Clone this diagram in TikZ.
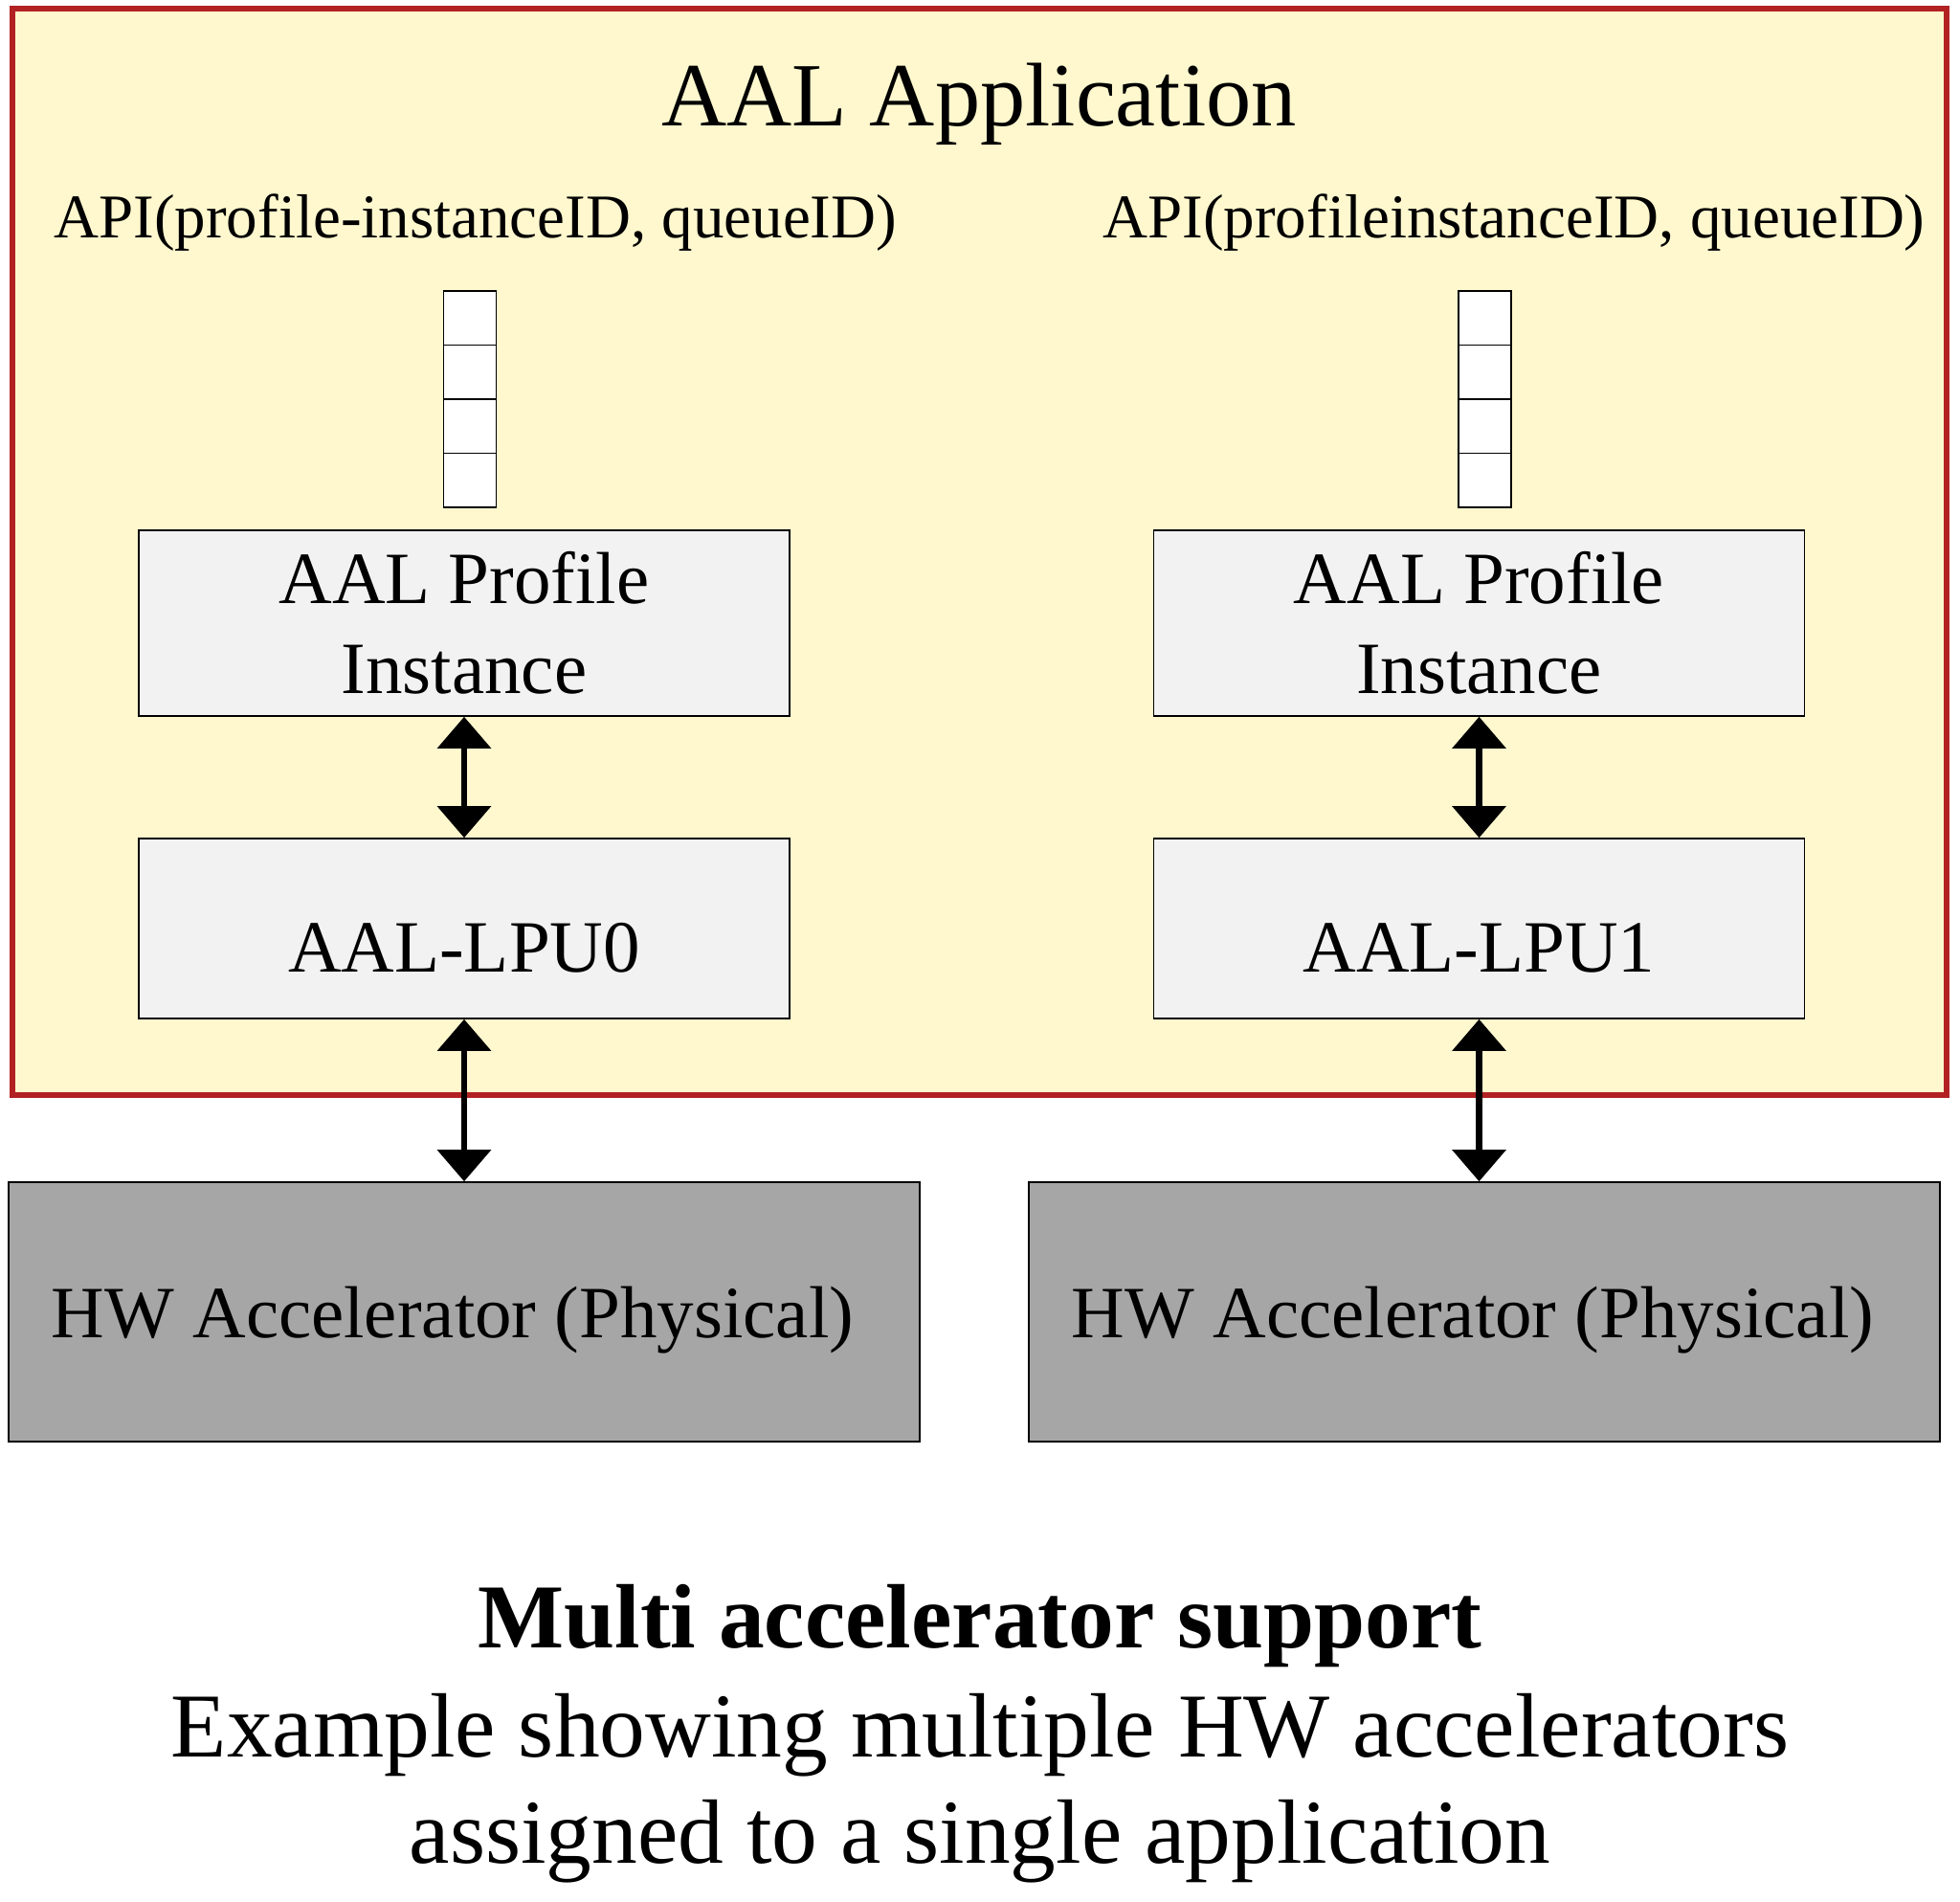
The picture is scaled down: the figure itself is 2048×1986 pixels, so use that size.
\documentclass[tikz,border=0pt]{standalone}
\usepackage{fontspec}
\setmainfont{Liberation Serif}
\usepackage{tikz}
\usetikzlibrary{shapes,arrows.meta,positioning,calc}
\definecolor{appred}{HTML}{B22222}
\definecolor{appyellow}{HTML}{FFF8CE}
\definecolor{boxgray}{HTML}{F2F2F2}
\definecolor{hwgray}{HTML}{A6A6A6}

\tikzset{
  appbox/.style={draw=appred,line width=3pt,fill=appyellow,inner sep=0pt},
  swbox/.style={draw=black,line width=0.8pt,fill=boxgray,inner sep=0pt,
    minimum width=340pt,align=center,font=\fontsize{38.5}{47}\selectfont},
  hwbox/.style={draw=black,line width=0.8pt,fill=hwgray,inner sep=0pt,
    minimum width=476pt,minimum height=135.5pt,text height=27pt,text depth=0pt,
    font=\fontsize{38.5}{47}\selectfont},
  qcell/.style={draw=black,line width=0.75pt,fill=white,inner sep=0pt,
    minimum width=27.5pt,minimum height=28.25pt},
  apilabel/.style={anchor=base west,inner sep=0pt,font=\fontsize{32.5}{40}\selectfont},
  link/.style={line width=3.3pt,{Triangle[width=27.5pt,length=16.5pt]}-{Triangle[width=27.5pt,length=16.5pt]}}
}

\begin{document}
\begin{tikzpicture}[x=0.5pt,y=-0.5pt]
  \useasboundingbox (0,0) rectangle (2048,1986);

  % Application frame
  \node[appbox,minimum width=1010.5pt,minimum height=567.5pt] (app) at (1023.5,576.5) {};
  \node[anchor=base,inner sep=0pt,font=\fontsize{47.2}{56}\selectfont] (apptitle) at (1023,131) {AAL Application};

  % API calls
  \node[apilabel] (api0) at (56,248) {API(profile-instanceID, queueID)};
  \node[apilabel] (api1) at (1152,248) {API(profileinstanceID, queueID)};

  % Queues
  \foreach \qx/\qn in {491/0,1551.5/1}
    \foreach \k in {1,...,4}
      \node[qcell] (q\qn\k) at (\qx,{304+(\k-0.5)*56.5}) {};

  % Profile instances
  \node[swbox,minimum height=97pt] (prof0) at (485,651) {AAL Profile\\Instance};
  \node[swbox,minimum height=97pt] (prof1) at (1545.5,651) {AAL Profile\\Instance};

  % LPUs
  \node[swbox,minimum height=94pt,text height=45pt,text depth=0pt] (lpu0) at (485,970) {AAL-LPU0};
  \node[swbox,minimum height=94pt,text height=45pt,text depth=0pt] (lpu1) at (1545.5,970) {AAL-LPU1};

  % Physical accelerators
  \node[hwbox] (hw0) at (485,1370.5) {\hspace*{-12pt}HW Accelerator (Physical)};
  \node[hwbox] (hw1) at (1551,1370.5) {\hspace*{-12pt}HW Accelerator (Physical)};

  % Links
  \draw[link] (prof0.south) -- (lpu0.north);
  \draw[link] (prof1.south) -- (lpu1.north);
  \draw[link] (lpu0.south) -- (lpu0.south |- hw0.north);
  \draw[link] (lpu1.south) -- (lpu1.south |- hw1.north);

  % Caption
  \node[anchor=base,inner sep=0pt,font=\fontsize{47.7}{56}\selectfont\bfseries] (capt) at (1024,1721) {Multi accelerator support};
  \node[anchor=base,inner sep=0pt,font=\fontsize{47.7}{56}\selectfont] (capt1) at (1024,1835) {Example showing multiple HW accelerators};
  \node[anchor=base,inner sep=0pt,font=\fontsize{47.7}{56}\selectfont] (capt2) at (1024,1946) {assigned to a single application};
\end{tikzpicture}
\end{document}
